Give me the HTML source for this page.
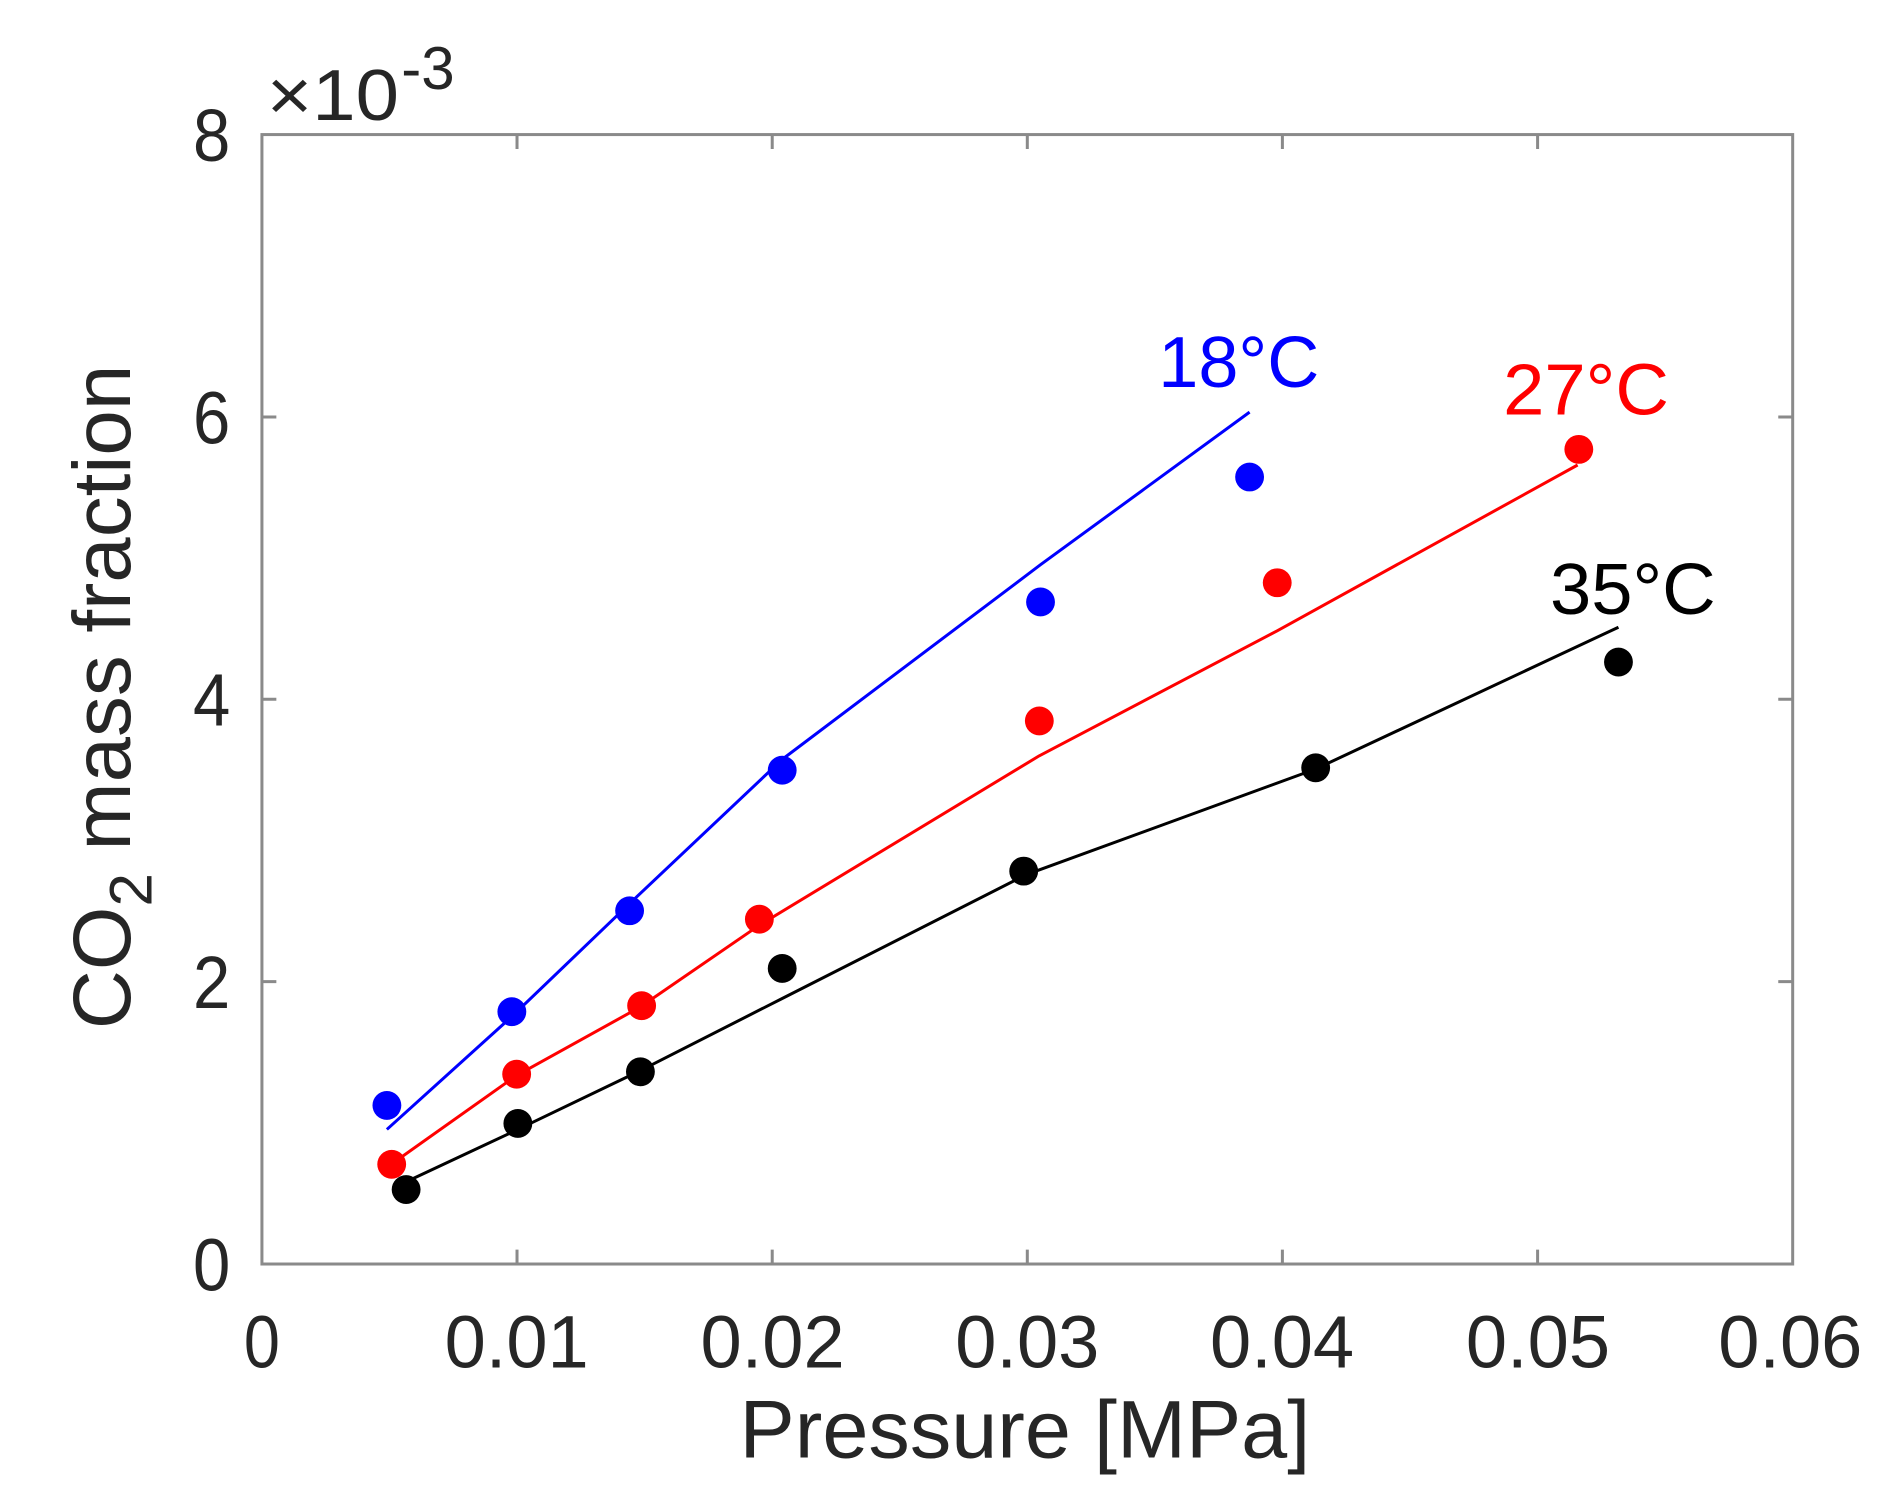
<!DOCTYPE html>
<html><head><style>html,body{margin:0;padding:0;background:#fff}svg{display:block}</style></head>
<body>
<svg width="1884" height="1494" viewBox="0 0 1568 1243.4" xmlns="http://www.w3.org/2000/svg" font-family="'Liberation Sans', sans-serif">
<rect width="1568" height="1243.4" fill="#fff"/>
<g stroke="#8a8a8a" stroke-width="2.5" fill="none">
<rect x="218" y="112" width="1274" height="940"/>
<path d="M430.3 1052v-12M642.7 1052v-12M855 1052v-12M1067.3 1052v-12M1279.7 1052v-12
M430.3 112v12M642.7 112v12M855 112v12M1067.3 112v12M1279.7 112v12
M218 817h12M218 582h12M218 347h12M1492 817h-12M1492 582h-12M1492 347h-12"/>
</g>
<g font-size="62" fill="#262626" text-anchor="end" transform="scale(0.9,1)">
<text x="213" y="1074">0</text><text x="213" y="839">2</text><text x="213" y="604">4</text><text x="213" y="369">6</text><text x="213" y="134">8</text>
</g>
<g font-size="62" fill="#262626" text-anchor="middle">
<text x="218" y="1138" textLength="30" lengthAdjust="spacingAndGlyphs">0</text><text x="430" y="1138" textLength="120" lengthAdjust="spacingAndGlyphs">0.01</text><text x="643" y="1138" textLength="120" lengthAdjust="spacingAndGlyphs">0.02</text><text x="855" y="1138" textLength="120" lengthAdjust="spacingAndGlyphs">0.03</text><text x="1067" y="1138" textLength="120" lengthAdjust="spacingAndGlyphs">0.04</text><text x="1280" y="1138" textLength="120" lengthAdjust="spacingAndGlyphs">0.05</text><text x="1490" y="1138" textLength="120" lengthAdjust="spacingAndGlyphs">0.06</text>
</g>
<text x="222" y="100" font-size="60" fill="#262626" textLength="110" lengthAdjust="spacingAndGlyphs">×10</text><text x="334" y="74" font-size="50" fill="#262626">-3</text>
<text x="853" y="1213" font-size="68" fill="#262626" text-anchor="middle" textLength="475" lengthAdjust="spacingAndGlyphs">Pressure [MPa]</text>
<text transform="translate(108,580) rotate(-90)" font-size="68" fill="#262626" text-anchor="middle">CO<tspan font-size="50" dy="18">2</tspan><tspan dy="-18"> mass fraction</tspan></text>
<g fill="none" stroke-width="2.5" stroke-linejoin="round">
<polyline stroke="#0000ff" points="322,940 426,846 524,752 651,632 866,470 1040,343"/>
<polyline stroke="#ff0000" points="327,968 430,895 533,838 632,770 865,629 1063,525 1313,387"/>
<polyline stroke="#000" points="335,985 431,940 533,891 651,831 854,728 1095,640 1347,522"/>
</g>
<g fill="#0000ff">
<circle cx="322" cy="920" r="12"/><circle cx="426" cy="842" r="12"/><circle cx="524" cy="758" r="12"/><circle cx="651" cy="641" r="12"/><circle cx="866" cy="501" r="12"/><circle cx="1040" cy="397" r="12"/>
</g>
<g fill="#ff0000">
<circle cx="326" cy="969" r="12"/><circle cx="430" cy="894" r="12"/><circle cx="534" cy="837" r="12"/><circle cx="632" cy="765" r="12"/><circle cx="865" cy="600" r="12"/><circle cx="1063" cy="485" r="12"/><circle cx="1314" cy="374" r="12"/>
</g>
<g fill="#000">
<circle cx="338" cy="990" r="12"/><circle cx="431" cy="935" r="12"/><circle cx="533" cy="892" r="12"/><circle cx="651" cy="806" r="12"/><circle cx="852" cy="725" r="12"/><circle cx="1095" cy="639" r="12"/><circle cx="1347" cy="551" r="12"/>
</g>
<text x="964" y="322" font-size="60" fill="#0000ff" textLength="134" lengthAdjust="spacingAndGlyphs">18°C</text>
<text x="1251" y="345" font-size="60" fill="#ff0000" textLength="138" lengthAdjust="spacingAndGlyphs">27°C</text>
<text x="1290" y="511" font-size="60" fill="#000" textLength="138" lengthAdjust="spacingAndGlyphs">35°C</text>
</svg>
</body></html>
